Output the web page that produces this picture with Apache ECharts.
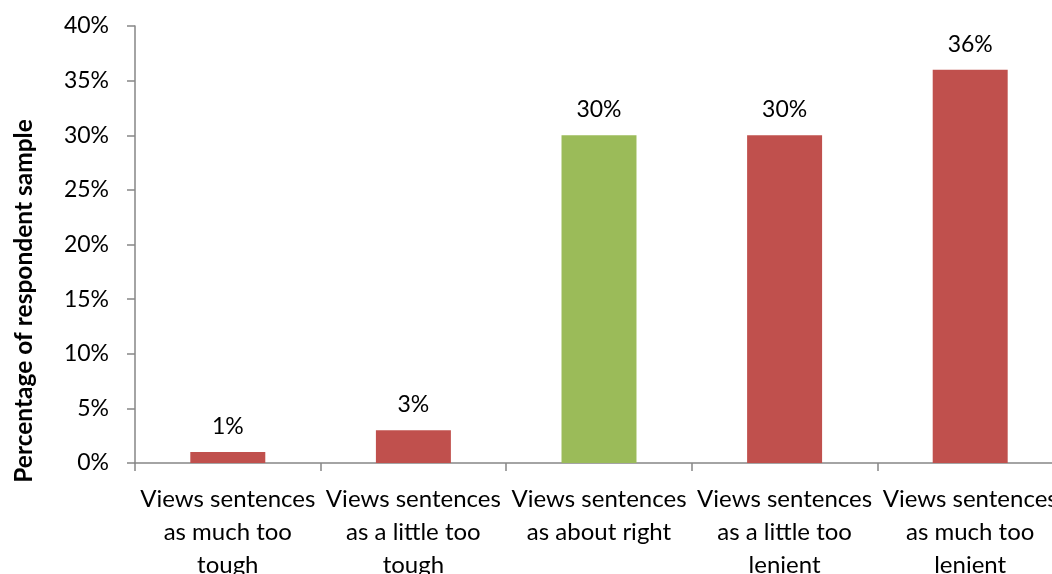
<!DOCTYPE html>
<html>
<head>
<meta charset="utf-8">
<script src="https://cdn.jsdelivr.net/npm/echarts@6/dist/echarts.min.js"></script>
<style>
  html, body { margin: 0; padding: 0; background: #fff; }
  #chart { width: 1052px; height: 574px; }
</style>
</head>
<body>
<div id="chart"></div>
<script>
// Views on sentencing, share of respondents per answer
const categories = [
  'Views sentences\nas much too\ntough',
  'Views sentences\nas a little too\ntough',
  'Views sentences\nas about right',
  'Views sentences\nas a little too\nlenient',
  'Views sentences\nas much too\nlenient'
];
const values = [1, 3, 30, 30, 36];
const barColors = ['#C0504D', '#C0504D', '#9BBB59', '#C0504D', '#C0504D'];
const yTicks = { min: 0, max: 40, interval: 5 };
const yTitle = 'Percentage of respondent sample';

const FONT = 'Lato, "Open Sans", sans-serif';
const AXIS_GRAY = '#868686';

const chart = echarts.init(document.getElementById('chart'), null, { renderer: 'canvas' });
chart.setOption({
  animation: false,
  backgroundColor: '#ffffff',
  grid: { left: 135, top: 26, right: -11, bottom: 111, outerBoundsMode: 'none', containLabel: false },
  xAxis: {
    type: 'category',
    data: categories,
    axisLine: { lineStyle: { color: AXIS_GRAY, width: 1.5 } },
    axisTick: { show: true, alignWithLabel: false, length: 8, lineStyle: { color: AXIS_GRAY, width: 1.5 } },
    axisLabel: {
      interval: 0, margin: 20, color: '#000', fontFamily: FONT, fontSize: 24, lineHeight: 33,
      hideOverlap: false
    }
  },
  yAxis: {
    type: 'value',
    min: yTicks.min, max: yTicks.max, interval: yTicks.interval,
    axisLine: { show: true, lineStyle: { color: AXIS_GRAY, width: 1.5 } },
    axisTick: { show: true, length: 8, lineStyle: { color: AXIS_GRAY, width: 1.5 } },
    splitLine: { show: false },
    axisLabel: { formatter: '{value}%', margin: 26, color: '#000', fontFamily: FONT, fontSize: 23 }
  },
  graphic: [{
    type: 'text',
    x: 24, y: 301,
    rotation: Math.PI / 2,
    style: {
      text: yTitle, fill: '#000', font: 'bold 24.5px ' + FONT,
      align: 'center', verticalAlign: 'middle'
    }
  }],
  series: [{
    type: 'bar',
    barWidth: '40.4%',
    data: values.map((v, i) => ({ value: v, itemStyle: { color: barColors[i] } })),
    label: {
      show: true, position: 'top', distance: 14,
      formatter: '{c}%', color: '#000', fontFamily: FONT, fontSize: 23
    }
  }]
});
</script>
</body>
</html>
